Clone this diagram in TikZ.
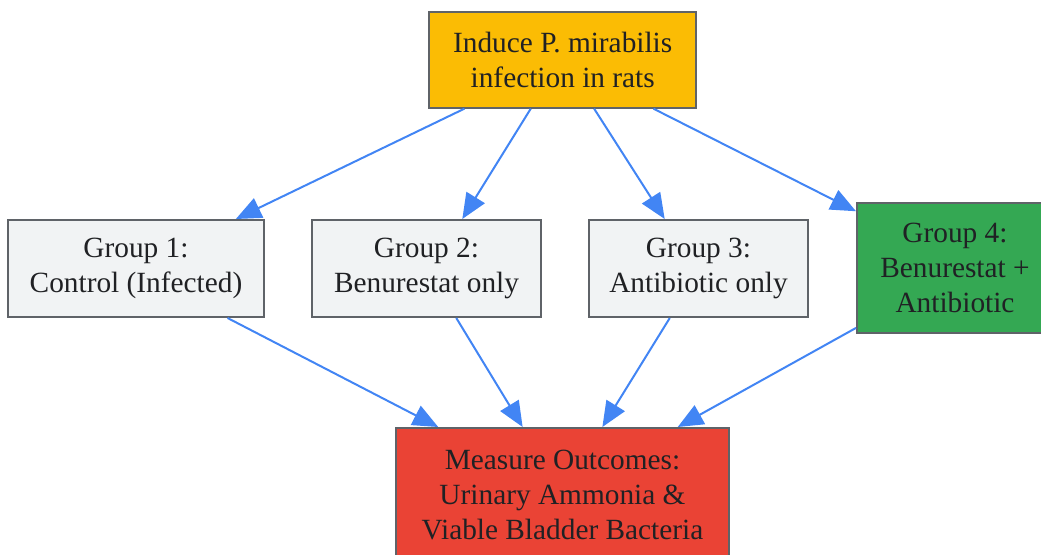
\documentclass[tikz,border=0pt]{standalone}
\usepackage{fontspec}
\setmainfont{Liberation Serif}
\usetikzlibrary{arrows.meta,calc}
\definecolor{boxline}{HTML}{5F6368}
\definecolor{txt}{HTML}{202124}
\definecolor{cyellow}{HTML}{FBBC04}
\definecolor{cgrey}{HTML}{F1F3F4}
\definecolor{cgreen}{HTML}{34A853}
\definecolor{cred}{HTML}{EA4335}
\definecolor{cblue}{HTML}{4285F4}
\tikzset{
  box/.style={draw=boxline, line width=1.5pt, align=center, inner sep=0pt,
    font=\fontsize{22}{26}\selectfont, text=txt},
  conn/.style={draw=cblue, line width=1.5pt, -{Triangle[length=19pt,width=16pt]}}
}
\begin{document}
\begin{tikzpicture}[x=0.75pt,y=-0.75pt]
\useasboundingbox (0,0) rectangle (1041,554);
\clip (0,0) rectangle (1041,554);
\node[box, fill=cyellow, minimum width=200pt, minimum height=72pt] (top) at (562.7,59.7) {Induce P. mirabilis\\infection in rats};
\node[box, fill=cgrey, minimum width=192pt, minimum height=72.75pt] (g1) at (136,268.5) {Group 1:\\Control (Infected)};
\node[box, fill=cgrey, minimum width=171.75pt, minimum height=72.75pt] (g2) at (426.5,268.5) {Group 2:\\Benurestat only};
\node[box, fill=cgrey, minimum width=164.25pt, minimum height=72.75pt] (g3) at (698.5,268.5) {Group 3:\\Antibiotic only};
\node[box, fill=cgreen, minimum width=147pt, minimum height=97.5pt] (g4) at (955,268) {Group 4:\\Benurestat +\\Antibiotic};
\node[box, fill=cred, minimum width=249.75pt, minimum height=100.5pt] (out) at (562.5,495) {Measure Outcomes:\\Urinary Ammonia \&\\Viable Bladder Bacteria};
% top to groups
\draw[conn] ($(top.south west)!0.134!(top.south east)$) -- ($(g1.north west)!0.887!(g1.north east)$);
\draw[conn] ($(top.south west)!0.381!(top.south east)$) -- ($(g2.north west)!0.655!(g2.north east)$);
\draw[conn] ($(top.south west)!0.617!(top.south east)$) -- ($(g3.north west)!0.347!(g3.north east)$);
\draw[conn] ($(top.south west)!0.838!(top.south east)$) -- ($(g4.north west)!0.07!(g4.south west)$);
% groups to outcome
\draw[conn] ($(g1.south west)!0.855!(g1.south east)$) -- ($(out.north west)!0.129!(out.north east)$);
\draw[conn] ($(g2.south west)!0.629!(g2.south east)$) -- ($(out.north west)!0.381!(out.north east)$);
\draw[conn] ($(g3.south west)!0.37!(g3.south east)$) -- ($(out.north west)!0.619!(out.north east)$);
\draw[conn] ($(g4.north west)!0.954!(g4.south west)$) -- ($(out.north west)!0.844!(out.north east)$);
\end{tikzpicture}
\end{document}
